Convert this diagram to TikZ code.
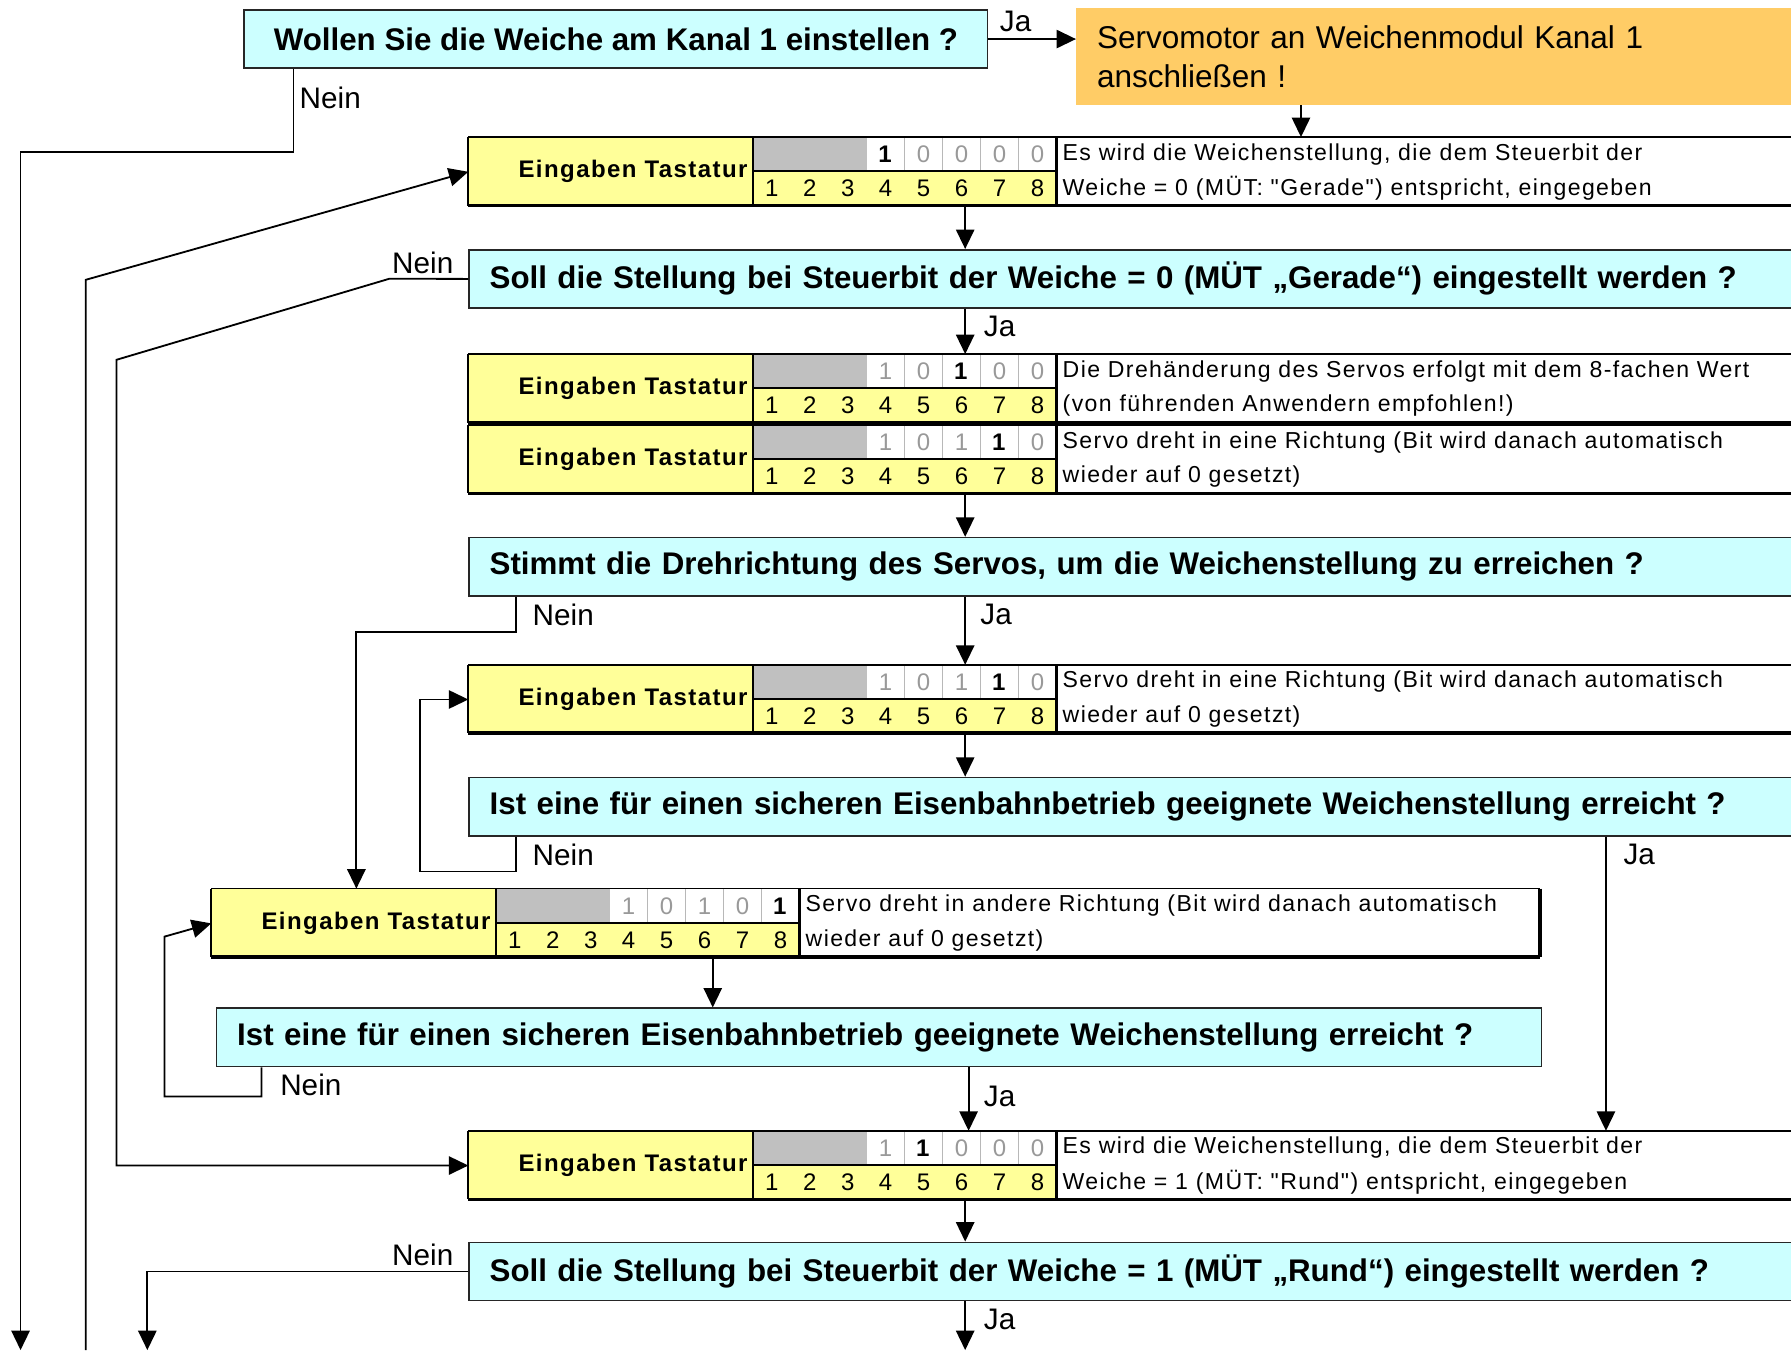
\documentclass[tikz,border=0pt]{standalone}
\usepackage{fontspec}
\setmainfont{Liberation Sans}
\newfontfamily\tabfont[LetterSpace=6]{Liberation Sans}
\usetikzlibrary{arrows.meta}

\definecolor{fragecyan}{HTML}{CCFFFF}
\definecolor{servoorange}{HTML}{FFCC66}
\definecolor{tastgelb}{HTML}{FFFF99}
\definecolor{bitgrau}{HTML}{C0C0C0}
\definecolor{nullgrau}{HTML}{999999}

\tikzset{
frage/.style={draw=black!85, line width=0.7pt, fill=fragecyan, anchor=north west, inner xsep=9pt, inner ysep=0pt, minimum height=25.5pt, align=left, font=\fontsize{13.7}{16}\selectfont\bfseries},
servo/.style={fill=servoorange, anchor=north west, inner xsep=9pt, inner ysep=0pt, minimum height=42.25pt, text width=298.5pt, align=left, font=\fontsize{13.8}{17}\selectfont},
tastzelle/.style={fill=tastgelb, anchor=north west, minimum width=124pt, minimum height=30pt, inner xsep=2pt, inner ysep=0pt, text width=120pt, align=right, font=\tabfont\bfseries\fontsize{10.5}{12}\selectfont},
ziffer/.style={inner sep=0pt, font=\tabfont\fontsize{10.5}{12}\selectfont},
beschr/.style={anchor=west, inner sep=0pt, font=\tabfont\fontsize{10.1}{12}\selectfont},
trenner/.style={draw=nullgrau!70, line width=0.6pt},
antwort/.style={anchor=west, inner sep=0pt, font=\fontsize{13}{15}\selectfont},
pfeil/.style={line width=0.8pt, -{Triangle[length=8.5pt,width=8pt]}},
}

\newcommand\tastzeile[8]{%
\pgfmathsetmacro\gx{#2+249}
\pgfmathsetmacro\zb{(#4-#2)*0.5}
\node[anchor=north west, minimum width=\zb pt, minimum height=30pt, inner sep=0pt] (#1) at (#2,#3) {};
\node[tastzelle] (#1l) at (#2,#3) {Eingaben Tastatur};
\fill[bitgrau] (\gx,#3) rectangle ++(99.75,30);
\fill[tastgelb] (\gx,#3+30) rectangle ++(266,30);
\foreach \k in {4,...,7} \draw[trenner] ({\gx+\k*33.25},#3) -- ++(0,30);
\foreach \k in {1,...,8} \node[ziffer] (#1z\k) at ({\gx+(\k-0.5)*33.25},#3+45) {\k};
\foreach \w [count=\k from 4] in {#5} \node[ziffer] (#1w\k) at ({\gx+(\k-0.5)*33.25},#3+15) {\ifnum\k=#6 \textbf{\w}\else\textcolor{nullgrau}{\w}\fi};
\draw[line width=0.7pt] (#2,#3) -- (#4,#3);
\draw[line width=1.6pt] (#2,#3+60) -- (#4,#3+60);
\draw[line width=1pt] (#2,#3) -- ++(0,60) (\gx,#3) -- ++(0,60) (\gx,#3+30) -- ++(266,0) (\gx+266,#3) -- ++(0,60);
\draw[line width=1.6pt] (#4,#3) -- ++(0,60);
\node[beschr] (#1a) at (\gx+271,#3+15) {#7};
\node[beschr] (#1b) at (\gx+271,#3+45) {#8};
}

\begin{document}
\begin{tikzpicture}[x=0.5pt,y=-0.5pt]
\useasboundingbox (0,0) rectangle (1568,1182);

\node[frage, minimum width=325.5pt, align=center] (frage1) at (213,8) {Wollen Sie die Weiche am Kanal 1 einstellen ?};
\node[servo] (servo) at (942,7) {Servomotor an Weichenmodul Kanal 1\\anschließen !};

\tastzeile{r1}{410}{120}{1575}{1,0,0,0,0}{4}{Es wird die Weichenstellung, die dem Steuerbit der}{Weiche = 0 (MÜT: "Gerade") entspricht, eingegeben}
\node[frage, text width=564.5pt] (frage2) at (410,218) {Soll die Stellung bei Steuerbit der Weiche = 0 (MÜT „Gerade“) eingestellt werden ?};
\tastzeile{r2}{410}{310}{1575}{1,0,1,0,0}{6}{Die Drehänderung des Servos erfolgt mit dem 8-fachen Wert}{(von führenden Anwendern empfohlen!)}
\tastzeile{r3}{410}{372}{1575}{1,0,1,1,0}{7}{Servo dreht in eine Richtung (Bit wird danach automatisch}{wieder auf 0 gesetzt)}
\node[frage, text width=564.5pt] (frage3) at (410,470) {Stimmt die Drehrichtung des Servos, um die Weichenstellung zu erreichen ?};
\tastzeile{r4}{410}{582}{1575}{1,0,1,1,0}{7}{Servo dreht in eine Richtung (Bit wird danach automatisch}{wieder auf 0 gesetzt)}
\node[frage, text width=564.5pt] (frage4) at (410,680) {Ist eine für einen sicheren Eisenbahnbetrieb geeignete Weichenstellung erreicht ?};
\tastzeile{r6}{185}{778}{1348}{1,0,1,0,1}{8}{Servo dreht in andere Richtung (Bit wird danach automatisch}{wieder auf 0 gesetzt)}
\node[frage, text width=562pt] (frage5) at (189,882) {Ist eine für einen sicheren Eisenbahnbetrieb geeignete Weichenstellung erreicht ?};
\tastzeile{r5}{410}{990}{1575}{1,1,0,0,0}{5}{Es wird die Weichenstellung, die dem Steuerbit der}{Weiche = 1 (MÜT: "Rund") entspricht, eingegeben}
\node[frage, text width=564.5pt] (frage6) at (410,1087) {Soll die Stellung bei Steuerbit der Weiche = 1 (MÜT „Rund“) eingestellt werden ?};

\coordinate (mitte) at (845,0);
\coordinate (mitte5) at (848,0);
\coordinate (mitte6) at (624,0);
\coordinate (servopin) at (1139,0);
\coordinate (k1) at (257,133);
\coordinate (k2a) at (341,244);
\coordinate (k2b) at (102,315);
\coordinate (k3) at (75,245);
\coordinate (k4) at (452,553);
\coordinate (k5) at (312,553);
\coordinate (k6) at (452,763);
\coordinate (k7) at (368,763);
\coordinate (k8) at (1406,0);
\coordinate (k9) at (229,960);
\coordinate (k10) at (144,960);
\coordinate (k11) at (144,820);
\coordinate (ein1) at (75,1182);
\coordinate (aus1) at (18,1182);
\coordinate (aus2) at (129,1182);
\coordinate (aus3) at (845,1182);

\draw[pfeil] (frage1.east) -- (frage1.east -| servo.west);
\draw[pfeil] (servo.south -| servopin) -- (r1.north -| servopin);
\draw[pfeil] (frage1.south -| k1) |- (aus1 |- k1) -- (aus1);
\draw[pfeil] (ein1) -- (k3) -- (r1.west);
\draw[pfeil] (r1.south -| mitte) -- (frage2.north -| mitte);
\draw[pfeil] (frage2.south -| mitte) -- (r2.north -| mitte);
\draw[pfeil] (frage2.west) -- (k2a) -- (k2b) |- (r5.west);
\draw[pfeil] (r3.south -| mitte) -- (frage3.north -| mitte);
\draw[pfeil] (frage3.south -| mitte) -- (r4.north -| mitte);
\draw[pfeil] (frage3.south -| k4) -- (k4) -- (k5) -- (r6.north -| k5);
\draw[pfeil] (r4.south -| mitte) -- (frage4.north -| mitte);
\draw[pfeil] (frage4.south -| k6) -- (k6) -- (k7) |- (r4.west);
\draw[pfeil] (frage4.south -| k8) -- (r5.north -| k8);
\draw[pfeil] (r6.south -| mitte6) -- (frage5.north -| mitte6);
\draw[pfeil] (frage5.south -| k9) -- (k9) -- (k10) -- (k11) -- (r6.west);
\draw[pfeil] (frage5.south -| mitte5) -- (r5.north -| mitte5);
\draw[pfeil] (r5.south -| mitte) -- (frage6.north -| mitte);
\draw[pfeil] (frage6.west) -| (aus2);
\draw[pfeil] (frage6.south -| mitte) -- (aus3);

\node[antwort] (ja1) at (875,19) {Ja};
\node[antwort] (nein1) at (262,86) {Nein};
\node[antwort] (nein2) at (343,230) {Nein};
\node[antwort] (ja2) at (861,286) {Ja};
\node[antwort] (nein3) at (466,538) {Nein};
\node[antwort] (ja3) at (858,538) {Ja};
\node[antwort] (nein4) at (466,748) {Nein};
\node[antwort] (ja4) at (1421,748) {Ja};
\node[antwort] (nein5) at (245,950) {Nein};
\node[antwort] (ja5) at (861,960) {Ja};
\node[antwort] (nein6) at (343,1099) {Nein};
\node[antwort] (ja6) at (861,1155) {Ja};
\end{tikzpicture}
\end{document}
